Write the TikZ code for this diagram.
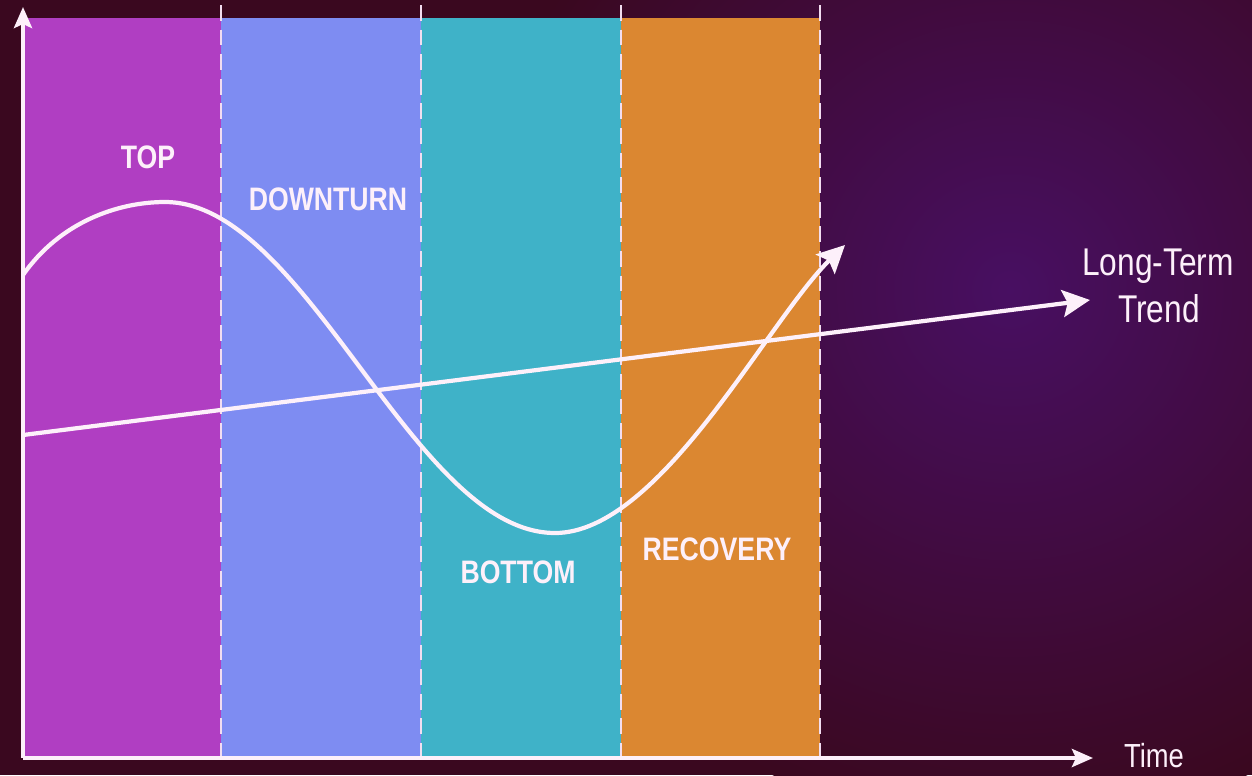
\documentclass[tikz,border=0pt]{standalone}
\usepackage{fontspec}
\setmainfont{Liberation Sans}
\newfontfamily\condfont[FakeStretch=0.82]{Liberation Sans}
\usetikzlibrary{arrows.meta}
\definecolor{bgbase}{HTML}{3A081F}
\definecolor{bgglow}{HTML}{480F62}
\definecolor{bandA}{HTML}{B03EC2}
\definecolor{bandB}{HTML}{7E8CF2}
\definecolor{bandC}{HTML}{3FB2C8}
\definecolor{bandD}{HTML}{DB8731}
\definecolor{ink}{HTML}{FDF0FA}
\definecolor{dashcol}{HTML}{F2DDF0}
\tikzset{
  bandlabel/.style={text=ink, font=\condfont\bfseries\fontsize{18.5}{20}\selectfont, anchor=base, inner sep=0pt},
  sidelabel/.style={text=ink, font=\condfont\fontsize{22}{24}\selectfont, anchor=base, inner sep=0pt},
  timelabel/.style={text=ink, font=\condfont\fontsize{19}{21}\selectfont, anchor=base, inner sep=0pt},
  divider/.style={draw=dashcol, line width=1.4pt, dash pattern=on 9pt off 5pt},
  axisline/.style={draw=ink, line width=2.4pt, -{Stealth[length=0.42cm, width=0.36cm, inset=0.08cm]}},
  bigarrow/.style={draw=ink, line width=2.4pt, -{Stealth[length=0.55cm, width=0.54cm, inset=0.1cm]}}
}
\begin{document}
\begin{tikzpicture}[x=0.02cm, y=-0.02cm]
\useasboundingbox (0,0) rectangle (1252,775);
% background
\fill[bgbase] (0,0) rectangle (1252,775);
\begin{scope}
\clip (0,0) rectangle (1252,775);
\shade[inner color=bgglow, outer color=bgbase] (1010,290) circle (540);
\end{scope}
% bands
\fill[bandA] (23,18) rectangle (221,758);
\fill[bandB] (221,18) rectangle (421,758);
\fill[bandC] (421,18) rectangle (621,758);
\fill[bandD] (621,18) rectangle (820,758);
% dividers
\foreach \xx/\nm in {221/d1, 421/d2, 621/d3, 820/d4}{
  \coordinate (\nm top) at (\xx,5);
  \coordinate (\nm bot) at (\xx,757);
  \draw[divider] (\nm top) -- (\nm bot);
}
% axes
\coordinate (origin) at (23,758);
\coordinate (ytip) at (23,7);
\coordinate (xtip) at (1093,758);
\draw[axisline] (origin) -- (ytip);
\draw[axisline] (origin) -- (xtip);
% long-term trend
\coordinate (trendstart) at (23,435);
\coordinate (trendend) at (1090,300);
\draw[bigarrow] (trendstart) -- (trendend);
% cycle curve
\coordinate (cstart) at (23,275);
\coordinate (cpeak) at (165,202);
\coordinate (ctrough) at (555,533);
\coordinate (cend) at (845,245);
\draw[bigarrow] (cstart) .. controls (60,222) and (118,202) .. (cpeak)
  .. controls (307,202) and (413,533) .. (ctrough)
  .. controls (660,533) and (768,320) .. (cend);
% labels
\node[bandlabel] (top) at (148,168) {TOP};
\node[bandlabel] (down) at (328,210) {DOWNTURN};
\node[bandlabel] (bottom) at (518,583) {BOTTOM};
\node[bandlabel] (recovery) at (717,560) {RECOVERY};
\node[sidelabel] (lt) at (1158,275) {Long-Term};
\node[sidelabel] (tr) at (1159,322) {Trend};
\node[timelabel] (time) at (1154,767) {Time};
\end{tikzpicture}
\end{document}
